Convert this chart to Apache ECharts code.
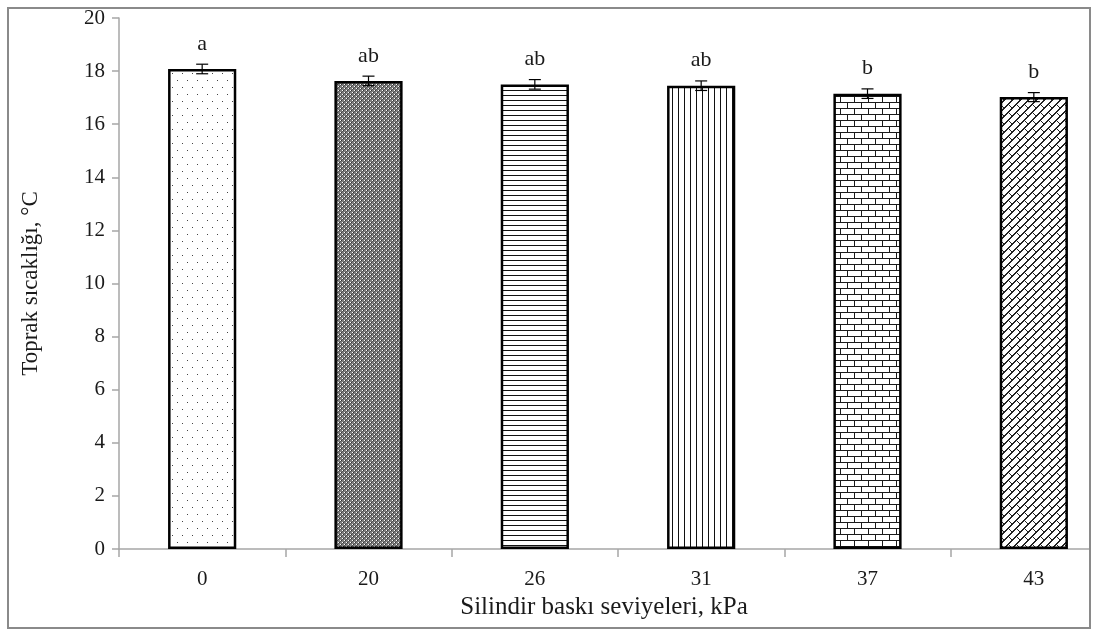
<!DOCTYPE html>
<html>
<head>
<meta charset="utf-8">
<script src="https://cdn.jsdelivr.net/npm/echarts@6/dist/echarts.min.js"></script>
<style>
  html, body { margin: 0; padding: 0; background: #fff; overflow: hidden; }
  #frame {
    position: absolute; left: 7px; top: 7px; width: 1080px; height: 618px;
    border: 2px solid #8a8a8a; overflow: hidden; background: #fff;
  }
  #chart { position: absolute; left: -9px; top: -9px; width: 1140px; height: 632px; }
</style>
</head>
<body>
<div id="frame"><div id="chart"></div></div>
<script>
// Soil temperature by roller pressure level
const categories = ['0', '20', '26', '31', '37', '43'];
const meanTemp = [18.08, 17.63, 17.50, 17.45, 17.15, 17.02];
const stdErr = [0.18, 0.18, 0.18, 0.18, 0.18, 0.17];
const groupLetters = ['a', 'ab', 'ab', 'ab', 'b', 'b'];
const yTicks = { min: 0, max: 20, interval: 2 };

const SERIF = '"Liberation Serif", "DejaVu Serif", serif';

// ---- fill patterns for the bars ----
function makeTile(w, h, draw) {
  const c = document.createElement('canvas');
  c.width = w; c.height = h;
  const ctx = c.getContext('2d');
  ctx.fillStyle = '#fff';
  ctx.fillRect(0, 0, w, h);
  draw(ctx, w, h);
  return c;
}
function px(ctx, x, y, col) { ctx.fillStyle = col; ctx.fillRect(x, y, 1, 1); }

const patterns = [
  // sparse staggered dots
  makeTile(10, 14, (ctx) => {
    px(ctx, 2, 3, '#444'); px(ctx, 7, 10, '#444');
  }),
  // dense dark checker
  makeTile(4, 4, (ctx) => {
    ctx.fillStyle = '#7d7d7d'; ctx.fillRect(0, 0, 4, 4);
    px(ctx, 0, 0, '#fff'); px(ctx, 2, 2, '#fff');
    px(ctx, 1, 0, '#333'); px(ctx, 3, 2, '#333');
    px(ctx, 0, 1, '#555'); px(ctx, 2, 3, '#555');
  }),
  // horizontal lines
  makeTile(4, 5, (ctx) => {
    ctx.fillStyle = '#111'; ctx.fillRect(0, 0, 4, 1);
  }),
  // vertical lines
  makeTile(6, 4, (ctx) => {
    ctx.fillStyle = '#111'; ctx.fillRect(0, 0, 1, 4);
  }),
  // brick
  makeTile(14, 12, (ctx) => {
    ctx.fillStyle = '#1a1a1a';
    ctx.fillRect(0, 0, 14, 1);
    ctx.fillRect(0, 6, 14, 1);
    ctx.fillRect(0, 0, 1, 6);
    ctx.fillRect(7, 6, 1, 6);
  }),
  // diagonal shingle
  makeTile(16, 16, (ctx) => {
    for (let y = 0; y < 16; y++) {
      for (let x = 0; x < 16; x++) {
        const u = x + y;
        const v = ((x - y) % 16 + 16) % 16;
        const row = Math.floor(u / 8) % 2;
        const onLong = (u % 8 === 0) || (u % 8 === 7);
        const onShort = ((v + row * 8) % 16 === 0);
        if (onLong || onShort) px(ctx, x, y, '#222');
      }
    }
  })
];

const chart = echarts.init(document.getElementById('chart'), null, { renderer: 'canvas' });

const barData = meanTemp.map((v, i) => ({
  value: v,
  itemStyle: {
    color: { image: patterns[i], repeat: 'repeat' },
    borderColor: '#000',
    borderWidth: 2.5
  },
  label: { formatter: groupLetters[i] }
}));

const errData = meanTemp.map((v, i) => [i, v, stdErr[i]]);

chart.setOption({
  animation: false,
  backgroundColor: '#fff',
  grid: { left: 119, top: 18, bottom: 83, width: 998, containLabel: false },
  xAxis: {
    type: 'category',
    data: categories,
    name: 'Silindir baskı seviyeleri, kPa',
    nameLocation: 'middle',
    nameGap: 45,
    nameTextStyle: { fontFamily: SERIF, fontSize: 25, color: '#1a1a1a', padding: [0, 28, 0, 0] },
    axisLine: { lineStyle: { color: '#a6a6a6', width: 1.5 } },
    axisTick: { show: true, length: 8, alignWithLabel: false, lineStyle: { color: '#a6a6a6', width: 1.5 } },
    axisLabel: { margin: 20, fontFamily: SERIF, fontSize: 21, color: '#1a1a1a' },
    splitLine: { show: false }
  },
  yAxis: {
    type: 'value',
    min: yTicks.min, max: yTicks.max, interval: yTicks.interval,
    name: 'Toprak sıcaklığı, °C',
    nameLocation: 'middle',
    nameGap: 77,
    nameRotate: 90,
    nameTextStyle: { fontFamily: SERIF, fontSize: 23, color: '#1a1a1a' },
    axisLine: { show: true, lineStyle: { color: '#a6a6a6', width: 1.5 } },
    axisTick: { show: true, length: 7, lineStyle: { color: '#a6a6a6', width: 1.5 } },
    axisLabel: { margin: 14, fontFamily: SERIF, fontSize: 21, color: '#1a1a1a' },
    splitLine: { show: false }
  },
  series: [
    {
      type: 'bar',
      data: barData,
      barWidth: '41%',
      label: {
        show: true,
        position: 'top',
        distance: 14,
        fontFamily: SERIF,
        fontSize: 22,
        color: '#1a1a1a'
      },
      z: 2
    },
    {
      type: 'custom',
      data: errData,
      encode: { x: 0, y: 1 },
      z: 5,
      renderItem: function (params, api) {
        const i = api.value(0);
        const m = api.value(1);
        const e = api.value(2);
        const hi = api.coord([i, m + e]);
        const lo = api.coord([i, m - e]);
        const cap = 6;
        const style = { stroke: '#000', lineWidth: 1.2 };
        return {
          type: 'group',
          children: [
            { type: 'line', shape: { x1: hi[0], y1: hi[1], x2: lo[0], y2: lo[1] }, style },
            { type: 'line', shape: { x1: hi[0] - cap, y1: hi[1], x2: hi[0] + cap, y2: hi[1] }, style },
            { type: 'line', shape: { x1: lo[0] - cap, y1: lo[1], x2: lo[0] + cap, y2: lo[1] }, style }
          ]
        };
      }
    }
  ]
});
</script>
</body>
</html>
